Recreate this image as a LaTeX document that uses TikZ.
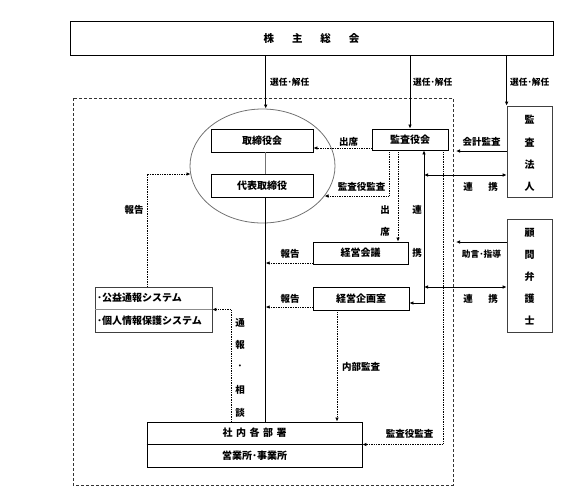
\documentclass[tikz,border=0pt]{standalone}
\usepackage{fontspec}
\newfontfamily\jp{Noto Sans CJK JP}
\usetikzlibrary{arrows.meta,shapes.geometric}
\begin{document}
\begin{tikzpicture}[x=1pt,y=-1pt,
  box/.style={draw, line width=0.9pt, inner sep=0pt, font=\jp\bfseries\fontsize{10}{12}\selectfont},
  gbox/.style={draw=black!75, line width=0.7pt, inner sep=0pt},
  txt/.style={inner sep=0pt, font=\jp\bfseries\fontsize{10}{12}\selectfont},
  lab/.style={inner sep=0pt, font=\jp\bfseries\fontsize{9.5}{11}\selectfont},
  slab/.style={inner sep=0pt, font=\jp\bfseries\fontsize{8.7}{10}\selectfont},
  dotl/.style={line width=0.8pt, dash pattern=on 0.8pt off 0.9pt},
  arr/.style={-{Latex[length=4pt,width=3.6pt]}},
  darr/.style={{Latex[length=4pt,width=3.6pt]}-{Latex[length=4pt,width=3.6pt]}},
  sl/.style={line width=0.9pt}
]
\useasboundingbox (0,0) rectangle (567,499);
% helper coordinates
\coordinate (xs) at (265.7,0);
\coordinate (xa) at (389,0);
\coordinate (xb) at (398,0);
\coordinate (xc) at (424,0);
\coordinate (xd) at (443,0);
\coordinate (xe) at (456,0);
\coordinate (xi) at (337,0);
\coordinate (xt) at (231,0);
\coordinate (xr) at (147,0);
\coordinate (y148) at (0,148);
\coordinate (y151) at (0,151);
\coordinate (y175) at (0,175);
\coordinate (y242) at (0,242);
\coordinate (y263) at (0,263);
\coordinate (y287) at (0,287);
\coordinate (y303) at (0,303);
\coordinate (y307) at (0,307);
\coordinate (e1) at (324.5,196);
\coordinate (e2) at (190.5,174);

% top box
\node[box, minimum width=483, minimum height=34] (gm) at (311.5,38)
  {\fontsize{10.5}{12}\selectfont 株\hspace{18pt}主\hspace{18pt}総\hspace{18pt}会};

% dashed frame
\draw[line width=0.8pt, draw=black!80, dash pattern=on 3pt off 2pt] (73,98) rectangle (453,485);

% ellipse and boards
\node[ellipse, draw=black!55, line width=0.8pt, minimum width=145, minimum height=114, inner sep=0pt] (ell) at (262.5,166) {};
\node[box, fill=white, minimum width=102, minimum height=23] (bod) at (262,140.5) {取締役会};
\node[box, fill=white, minimum width=102, minimum height=23] (rep) at (262,185.5) {代表取締役};
\node[box, minimum width=76, minimum height=21] (kan) at (410,139.5) {監査役会};
\node[box, minimum width=95, minimum height=22] (mtg) at (360.5,253) {経営会議};
\node[box, minimum width=96, minimum height=23] (plan) at (361,298.5) {経営企画室};

% external boxes
\node[gbox, minimum width=45, minimum height=91] (aud) at (529.5,151.5) {};
\node[txt] (a1) at (529.5,120) {監};
\node[txt] (a2) at (529.5,142.3) {査};
\node[txt] (a3) at (529.5,164.7) {法};
\node[txt] (a4) at (529.5,187) {人};
\node[gbox, minimum width=45, minimum height=113] (law) at (529.5,275.5) {};
\node[txt] (b1) at (529.5,233) {顧};
\node[txt] (b2) at (529.5,254.7) {問};
\node[txt] (b3) at (529.5,276.5) {弁};
\node[txt] (b4) at (529.5,298.3) {護};
\node[txt] (b5) at (529.5,320) {士};

% departments
\node[box, minimum width=215, minimum height=45] (dept) at (254.5,444.5) {};
\draw[sl] (dept.west) -- (dept.east);
\node[txt] (d1) at (254.5,433) {社\hspace{3.5pt}内\hspace{3.5pt}各\hspace{3.5pt}部\hspace{3.5pt}署};
\node[txt] (d2) at (254.5,456) {営業所･事業所};

% systems box
\node[gbox, minimum width=117, minimum height=45] (sys) at (153.5,309.5) {};
\draw[draw=black!45, line width=0.8pt] (sys.west) -- (sys.east);
\node[txt, anchor=west] (s1) at (97,298) {･公益通報システム};
\node[txt, anchor=west] (s2) at (97,321) {･個人情報保護システム};

% election arrows
\draw[sl, arr] (gm.south -| xs) -- (ell.north -| xs);
\draw[sl, arr] (gm.south -| kan.north) -- (kan.north);
\draw[sl, arr] (gm.south -| aud.north west) -- (aud.north west);
\node[slab, anchor=west] (l1) at (270,82) {選任･解任};
\node[slab, anchor=west] (l2) at (413,82) {選任･解任};
\node[slab, anchor=west] (l3) at (510,82) {選任･解任};

% spine
\draw[draw=black!55, line width=0.8pt] (bod.south -| xs) -- (rep.north -| xs);
\draw[sl] (rep.south -| xs) -- (dept.north -| xs);

% audit board connectors
\draw[dotl, arr] (kan.west |- y148) -- (bod.east |- y148);
\node[lab] (t1) at (348.5,141.7) {出席};
\draw[dotl, arr] (kan.south -| xa) |- (e1);
\node[lab] (t2) at (361.5,187) {監査役監査};
\draw[dotl, arr] (kan.south -| xb) -- (mtg.north -| xb);
\node[lab] (t3) at (385,210) {出};
\node[lab] (t4) at (385,232) {席};
\draw[sl, darr] (kan.south -| xc) |- (plan.east |- y303);
\node[lab] (t5) at (417,210) {連};
\node[lab] (t6) at (417,253) {携};
\draw[sl, darr] (xc |- y175) -- (aud.west |- y175);
\node[lab] (t7) at (468,187) {連};
\node[lab] (t8) at (493,187) {携};
\draw[sl, darr] (xc |- y287) -- (law.west |- y287);
\node[lab] (t9) at (468,299) {連};
\node[lab] (t10) at (493,299) {携};
\draw[sl, arr] (aud.west |- y151) -- (xe |- y151);
\node[lab] (t11) at (481.5,142) {会計監査};
\draw[sl, arr] (law.west |- y242) -- (xe |- y242);
\node[slab] (t12) at (481.5,254) {助言･指導};
\draw[dotl, arr] (kan.south -| xd) |- (dept.east);
\node[lab] (t13) at (409.5,434) {監査役監査};

% reports
\draw[dotl, arr] (mtg.west |- y263) -- (xs |- y263);
\node[lab] (t14) at (290,254) {報告};
\draw[dotl, arr] (plan.west |- y307) -- (xs |- y307);
\node[lab] (t15) at (290,299) {報告};
\draw[dotl, arr] (plan.south -| xi) -- (dept.north -| xi);
\node[lab] (t16) at (361,367) {内部監査};
\draw[dotl, arr] (sys.north -| xr) |- (e2);
\node[lab] (t17) at (134,209.5) {報告};
\draw[dotl, arr] (dept.north -| xt) |- (sys.east);
\node[lab] (v1) at (240,323) {通};
\node[lab] (v2) at (240,345) {報};
\node[lab] (v3) at (240,367) {･};
\node[lab] (v4) at (240,390) {相};
\node[lab] (v5) at (240,413) {談};
\end{tikzpicture}
\end{document}
